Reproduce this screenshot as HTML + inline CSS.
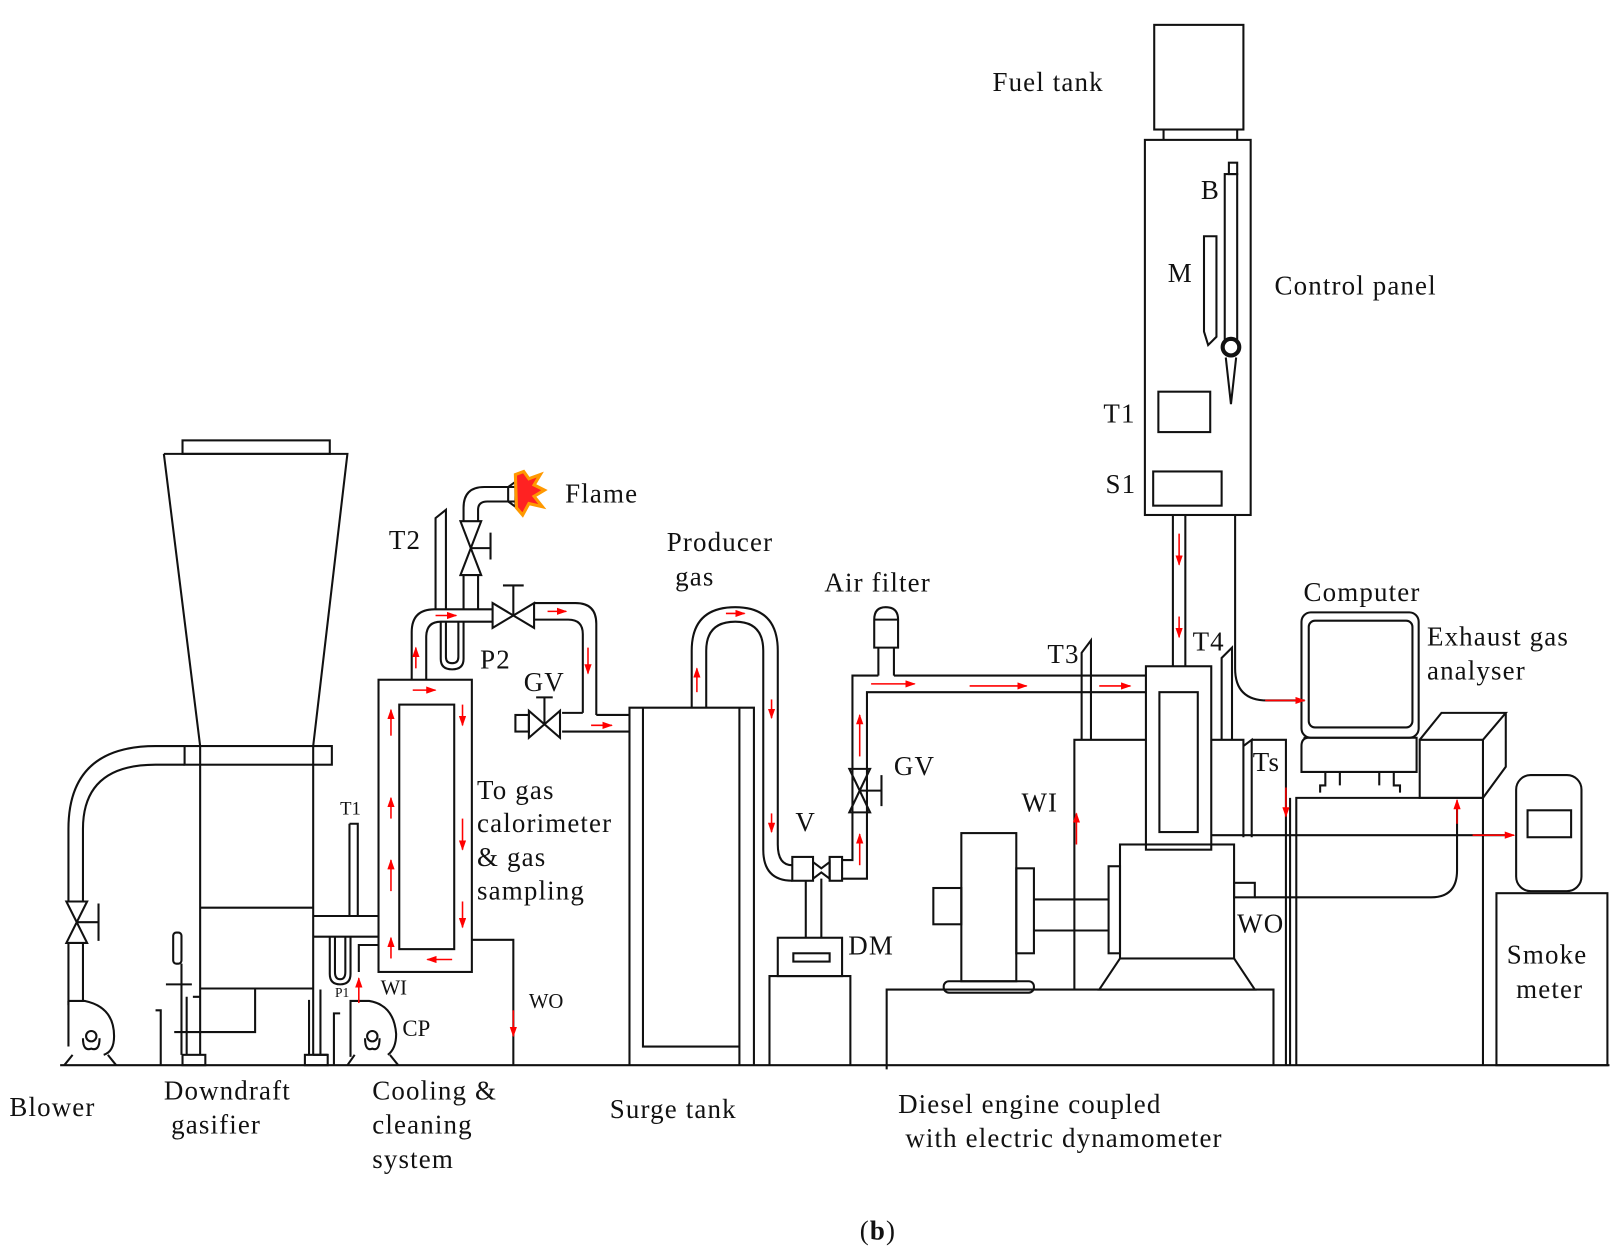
<!DOCTYPE html>
<html><head><meta charset="utf-8"><style>
html,body{margin:0;padding:0;background:#fff;}
svg{display:block;}
text{font-family:"Liberation Serif",serif;fill:#111;}
</style></head><body>
<svg width="1624" height="1260" viewBox="0 0 1566 1216" preserveAspectRatio="none" xmlns="http://www.w3.org/2000/svg">
<defs>
<marker id="a" markerWidth="10" markerHeight="7" refX="9" refY="3.5" orient="auto" markerUnits="userSpaceOnUse"><path d="M0,0 L10,3.5 L0,7 z" fill="#f00"/></marker>
</defs>
<g fill="none" stroke="#111" stroke-width="2">
<line x1="58" y1="1028" x2="1552" y2="1028"/>
<path d="M178,720 H150 Q66,720 66,800 V870"/>
<path d="M178,738 H150 Q80,738 80,800 V870"/>
<path d="M66,910 V970 M80,910 V966"/>
<path d="M64,870 L84,870 L64,910 L84,910 Z"/>
<path d="M74,890 H95 M95,872 V908"/>
<path d="M66,966 V1010 M66,966 H82 Q110,972 110,1000 Q110,1015 100,1018"/>
<circle cx="88" cy="1000" r="5"/>
<path d="M80,1002 Q80,1015 88,1012 Q96,1015 96,1002"/>
<path d="M70,1018 L62,1028 M104,1018 L112,1028"/>
<rect x="176" y="425" width="142" height="13"/>
<path d="M158,438 H335 L302,720 M158,438 L193,720"/>
<rect x="178" y="720" width="142" height="18"/>
<path d="M193,720 V1018 M302,720 V1018"/>
<path d="M193,876 H302 M193,954 H302"/>
<rect x="176" y="1018" width="22" height="10"/>
<rect x="294" y="1018" width="22" height="10"/>
<path d="M246,954 V996 H168"/>
<path d="M180,962 V1018 M186,962 H193"/>
<path d="M175,930 V1018"/>
<rect x="167" y="900" width="8" height="30" rx="3"/>
<path d="M160,950 H185"/>
<path d="M150,975 H155 V1028"/>
<path d="M302,884 H365 M302,904 H365"/>
<path d="M298,965 V1018 M309,955 V1018 M302,1018 H316"/>
<path d="M337,795 H345 V884 M337,795 V884"/>
<path d="M318,904 V940 Q318,950 328,950 Q338,950 338,940 V904"/>
<path d="M323,904 V938 Q323,945 328,945 Q333,945 333,938 V904"/>
<path d="M346,938 V912 H365"/>
<path d="M338,1020 V966 H356 Q380,970 382,998 Q382,1012 374,1018"/>
<circle cx="359" cy="1000" r="5"/>
<path d="M352,1002 Q352,1015 359,1012 Q366,1015 366,1002"/>
<path d="M342,1018 L335,1028 M376,1018 L384,1028"/>
<path d="M322,1028 V978 H328"/>
<rect x="365" y="656" width="90" height="282"/>
<rect x="385" y="680" width="53" height="236"/>
<path d="M455,907 H495 V1028"/>
<path d="M397,656 V610 Q397,588 419,588 H475"/>
<path d="M411,656 V615 Q411,600 425,600 H475"/>
<path d="M420,588 V500 L430,492 V588"/>
<path d="M425,600 V636 Q425,646 436,646 Q447,646 447,636 V600"/>
<path d="M430,600 V634 Q430,640 436,640 Q442,640 442,634 V600"/>
<path d="M447,588 V555 M461,588 V555"/>
<path d="M444,503 L464,503 L444,555 L464,555 Z"/>
<path d="M454,529 H473 M473,514 V540"/>
<path d="M447,503 V490 Q447,470 467,470 H497 M461,503 V492 Q461,484 470,484 H497"/>
<path d="M497,465 L490,470 V484 L497,489 Z"/>
<path d="M475,582 L515,606 L515,582 L475,606 Z"/>
<path d="M495,594 V565 M485,565 H505"/>
<path d="M515,582 H555 Q575,582 575,602 V690"/>
<path d="M515,598 H548 Q562,598 562,612 V688"/>
<path d="M542,688 H562 M542,706 H607 M575,690 H607"/>
<path d="M510,686 L540,712 L540,686 L510,712 Z"/>
<path d="M525,699 V673 M517,673 H533"/>
<rect x="497" y="690" width="13" height="16"/>
<path d="M607,1028 V683 H727 V1028"/>
<path d="M620,683 V1010 H713 V683 M713,1010 V1028"/>
<path d="M667,683 V628 Q667,586 709,586 Q750,586 750,628 V815 Q750,835 764,835"/>
<path d="M681,683 V628 Q681,600 709,600 Q736,600 736,628 V820 Q736,850 764,850"/>
<rect x="764" y="827" width="20" height="23"/>
<path d="M784,832 L792,838 L800,832 V848 L792,842 L784,848"/>
<rect x="800" y="827" width="12" height="23"/>
<path d="M777,850 V905 M792,848 V905"/>
<rect x="750" y="905" width="62" height="37"/>
<rect x="765" y="920" width="35" height="8"/>
<path d="M742,1028 V942 H820 V1028"/>
<path d="M812,830 H822 V652 H847 M862,652 H1105"/>
<path d="M812,848 H836 V668 H1105"/>
<path d="M847,652 V625 M862,652 V625"/>
<path d="M843,625 V598 Q843,586 854,586 Q866,586 866,598 V625 Z"/>
<path d="M843,598 H866"/>
<path d="M819,742 L839,742 L819,784 L839,784 Z"/>
<path d="M829,763 H850 M850,748 V778"/>
<path d="M1043,714 V630 L1052,618 V714"/>
<path d="M1178,714 V635 L1188,625 V714"/>
<rect x="1105" y="643" width="63" height="177"/>
<rect x="1118" y="668" width="37" height="135"/>
<path d="M1131,497 V643 M1143,497 V643"/>
<path d="M1191,497 V645 Q1191,676 1222,676 H1258"/>
<path d="M1036,955 V714 H1105"/>
<path d="M1168,714 H1199 V808 M1199,808 V720 L1207,714 V808 M1207,714 H1240 V1028 M1244,770 V1028"/>
<path d="M1168,806 H1458"/>
<rect x="1080" y="815" width="110" height="110"/>
<rect x="1069" y="836" width="11" height="84"/>
<path d="M1080,925 L1060,955 H1210 L1190,925"/>
<rect x="1190" y="852" width="20" height="14"/>
<path d="M1210,866 H1380 Q1405,866 1405,840 V775"/>
<rect x="927" y="804" width="53" height="143"/>
<rect x="980" y="838" width="17" height="82"/>
<rect x="900" y="857" width="27" height="35"/>
<path d="M997,868 H1069 M997,898 H1069"/>
<rect x="910" y="947" width="87" height="11" rx="5"/>
<path d="M855,1032 V955 H1228 V1028"/>
<rect x="1113" y="24" width="86" height="101"/>
<path d="M1122,125 V135 M1193,125 V135"/>
<rect x="1104" y="135" width="102" height="362"/>
<rect x="1181" y="168" width="12" height="160"/>
<rect x="1185" y="157" width="8" height="11"/>
<path d="M1161,228 H1173 V325 L1165,333 L1161,320 Z"/>
<path d="M1182,345 L1187,390 L1192,345"/>
<rect x="1117" y="378" width="50" height="39"/>
<rect x="1112" y="455" width="66" height="33"/>
<rect x="1255" y="591" width="113" height="121" rx="9"/>
<rect x="1262" y="599" width="100" height="103" rx="6"/>
<path d="M1257,712 H1366 V745 H1255 V720 Q1255,712 1262,712"/>
<path d="M1278,745 V758 H1273 V765 M1292,745 V758 M1330,745 V758 M1344,745 V758 H1350 V765"/>
<path d="M1250,1028 V770 H1430 V1028"/>
<path d="M1369,714 H1430 V770 H1369 Z M1369,714 L1390,688 H1452 L1430,714 M1452,688 V740 L1430,770"/>
<rect x="1462" y="748" width="63" height="112" rx="14"/>
<rect x="1473" y="782" width="42" height="26"/>
<rect x="1443" y="862" width="107" height="166"/>
</g>
<circle cx="1187" cy="335" r="8" fill="none" stroke="#111" stroke-width="4"/>
<path d="M497,458 L505,455 L510,462 L521,458 L515,468 L525,473 L515,479 L523,489 L510,486 L504,497 L498,490 Z" fill="#f22" stroke="#f90" stroke-width="3"/>
<g stroke="#f00" stroke-width="1.5" marker-end="url(#a)">
<line x1="377" y1="710" x2="377" y2="685"/>
<line x1="377" y1="790" x2="377" y2="770"/>
<line x1="377" y1="860" x2="377" y2="830"/>
<line x1="377" y1="925" x2="377" y2="905"/>
<line x1="446" y1="680" x2="446" y2="700"/>
<line x1="446" y1="790" x2="446" y2="820"/>
<line x1="446" y1="870" x2="446" y2="895"/>
<line x1="398" y1="666" x2="420" y2="666"/>
<line x1="436" y1="926" x2="412" y2="926"/>
<line x1="401" y1="645" x2="401" y2="625"/>
<line x1="420" y1="594" x2="440" y2="594"/>
<line x1="528" y1="590" x2="546" y2="590"/>
<line x1="567" y1="625" x2="567" y2="650"/>
<line x1="570" y1="700" x2="590" y2="700"/>
<line x1="346" y1="968" x2="346" y2="944"/>
<line x1="495" y1="975" x2="495" y2="1000"/>
<line x1="672" y1="668" x2="672" y2="645"/>
<line x1="700" y1="592" x2="718" y2="592"/>
<line x1="744" y1="675" x2="744" y2="693"/>
<line x1="744" y1="785" x2="744" y2="803"/>
<line x1="829" y1="730" x2="829" y2="690"/>
<line x1="829" y1="835" x2="829" y2="805"/>
<line x1="840" y1="660" x2="882" y2="660"/>
<line x1="935" y1="662" x2="990" y2="662"/>
<line x1="1060" y1="662" x2="1090" y2="662"/>
<line x1="1137" y1="515" x2="1137" y2="545"/>
<line x1="1137" y1="595" x2="1137" y2="615"/>
<line x1="1038" y1="815" x2="1038" y2="785"/>
<line x1="1240" y1="760" x2="1240" y2="788"/>
<line x1="1405" y1="795" x2="1405" y2="772"/>
<line x1="1220" y1="676" x2="1258" y2="676"/>
<line x1="1420" y1="806" x2="1460" y2="806"/>
</g>
<g font-size="26" letter-spacing="1.1">
<text x="957" y="88">Fuel tank</text>
<text x="1158" y="192">B</text>
<text x="1126" y="272">M</text>
<text x="1229" y="284">Control panel</text>
<text x="1064" y="408">T1</text>
<text x="1066" y="476">S1</text>
<text x="545" y="485">Flame</text>
<text x="375" y="530">T2</text>
<text x="643" y="532">Producer</text>
<text x="651" y="565">gas</text>
<text x="795" y="571">Air filter</text>
<text x="1257" y="580">Computer</text>
<text x="1376" y="623">Exhaust gas</text>
<text x="1376" y="656">analyser</text>
<text x="463" y="645">P2</text>
<text x="505" y="667">GV</text>
<text x="1010" y="640">T3</text>
<text x="1150" y="628">T4</text>
<text x="862" y="748">GV</text>
<text x="1208" y="744">Ts</text>
<text x="985" y="783">WI</text>
<text x="767" y="802">V</text>
<text x="460" y="771">To gas</text>
<text x="460" y="803">calorimeter</text>
<text x="460" y="836">&amp; gas</text>
<text x="460" y="868">sampling</text>
<text x="818" y="921">DM</text>
<text x="1193" y="900">WO</text>
<text x="1453" y="930">Smoke</text>
<text x="1462" y="963">meter</text>
<text x="9" y="1077">Blower</text>
<text x="158" y="1061">Downdraft</text>
<text x="165" y="1094">gasifier</text>
<text x="359" y="1061">Cooling &amp;</text>
<text x="359" y="1094">cleaning</text>
<text x="359" y="1127">system</text>
<text x="588" y="1079">Surge tank</text>
<text x="866" y="1074">Diesel engine coupled</text>
<text x="873" y="1107">with electric dynamometer</text>
<text x="829" y="1196">(<tspan font-weight="bold">b</tspan>)</text>
</g>
<text x="328" y="786" font-size="18">T1</text>
<text x="323" y="962" font-size="13">P1</text>
<text x="367" y="960" font-size="20">WI</text>
<text x="510" y="973" font-size="20">WO</text>
<text x="388" y="1000" font-size="22">CP</text>
</svg>
</body></html>
